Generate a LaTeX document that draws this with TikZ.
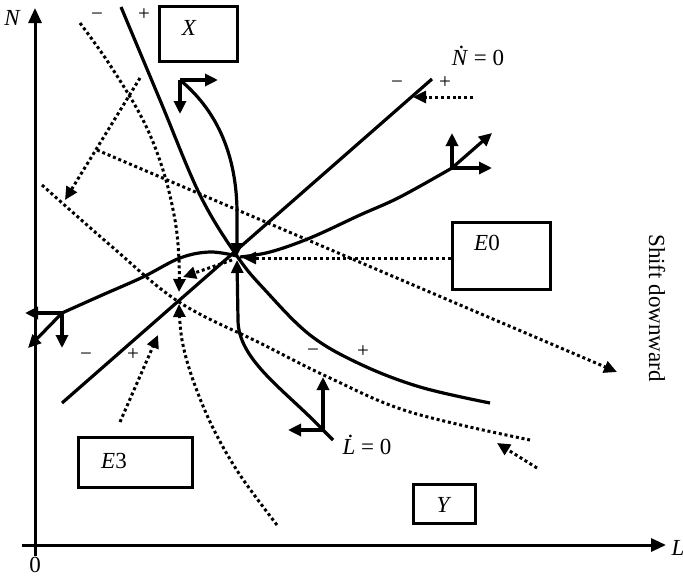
\documentclass[tikz,border=0pt]{standalone}
\usepackage{fontspec}
\setmainfont{Liberation Serif}
\usetikzlibrary{positioning, arrows.meta, calc}
\newcommand{\dotop}[1]{\ooalign{#1\cr\hidewidth\kern0.12em\raisebox{0.74em}{.}\hidewidth\cr}}
\tikzstyle{box}   = [rectangle, draw, line width=3pt, inner sep=0pt]
\tikzstyle{traj}  = [line width=3.2pt]
\tikzstyle{dotln} = [line width=3pt, dash pattern=on 3pt off 2.8pt]

\begin{document}
\begin{tikzpicture}[
  x=1pt, y=-1pt,
  font=\fontsize{23}{27}\selectfont,
  >={Triangle[length=13pt,width=12pt]},
  lbl/.style={inner sep=0pt, font=\fontsize{23}{27}\selectfont\itshape},
  txt/.style={inner sep=0pt},
  sgn/.style={inner sep=0pt, font=\fontsize{21}{24}\selectfont},
  ax/.style={->, line width=3pt, >={Triangle[length=15pt,width=13pt]}}
]
\useasboundingbox (0,0) rectangle (683,579);
\coordinate (e0) at (237,256);
\coordinate (e3) at (179,302);
\coordinate (cx) at (180,80);
\coordinate (cl) at (323,430);
\coordinate (cw) at (62,313);
\coordinate (ce) at (452,168);
\draw[ax] (35,556) -- (35,8);
\draw[ax] (22,545) -- (666,545);
\node[lbl] (nax) at (12,18) {N};
\node[lbl] (lax) at (678,548) {L};
\node[txt] (orig) at (35,565) {0};
\node[box, minimum width=78pt, minimum height=55pt] (xbox) at (198.5,33.5) {};
\node[lbl] (xlab) at (189,28) {X};
\node[box, minimum width=98pt, minimum height=67pt] (eobox) at (501,255.5) {};
\node[txt] (eolab) at (487,243) {\textit{E}0};
\node[box, minimum width=114pt, minimum height=50pt] (ethbox) at (135,462) {};
\node[txt] (ethlab) at (114,461) {\textit{E}3};
\node[box, minimum width=62pt, minimum height=39pt] (ybox) at (444,503.5) {};
\node[lbl] (ylab) at (443,505) {Y};
\node[txt] (ndot) at (478,58) {\dotop{\textit{N}} = 0};
\node[txt] (ldot) at (367,447) {\dotop{\textit{L}} = 0};
\node[txt, rotate=-90] (shift) at (657,308) {Shift downward};
\node[sgn] (m1) at (97,17) {−};
\node[sgn] (p1) at (144,15) {+};
\node[sgn] (m2) at (397,85) {−};
\node[sgn] (p2) at (445,83) {+};
\node[sgn] (m3) at (86,357) {−};
\node[sgn] (p3) at (133,355) {+};
\node[sgn] (m4) at (313,353) {−};
\node[sgn] (p4) at (363,352) {+};
\draw[traj] (62,403) -- (432,79);
\draw[traj] plot[smooth, tension=0.6] coordinates {(121,7) (160,100) (200,195) (e0) (265,290) (310,335) (360,364) (420,387) (490,403)};
\draw[traj, ->] (cx) .. controls (214,108) and (236,150) .. (237,210) -- (e0);
\draw[traj, ->] (cx) -- (218,80);
\draw[traj, ->] (cx) -- (180,114);
\draw[traj, ->] (333,440) -- (cl) .. controls (285,390) and (238,360) .. (238,320) -- (237,260);
\draw[traj, ->] (cl) -- (323,377);
\draw[traj, ->] (cl) -- (288,430);
\draw[traj] plot[smooth, tension=0.6] coordinates {(cw) (100,296) (143,277) (180,258) (210,252) (e0)};
\draw[traj, ->] (cw) -- (25,313);
\draw[traj, ->] (cw) -- (62,348);
\draw[traj, ->] (cw) -- (28,348);
\draw[traj] plot[smooth, tension=0.6] coordinates {(ce) (400,197) (360,215) (310,238) (270,252) (240,257)};
\draw[traj, ->] (ce) -- (452,133);
\draw[traj, ->] (ce) -- (492,168);
\draw[traj, ->] (ce) -- (492,133);
\draw[dotln, ->] (eobox.west |- 0,258) -- (243,258);
\draw[dotln, ->] (97,150) -- (617,372);
\draw[dotln] plot[smooth, tension=0.6] coordinates {(42,185) (110,245) (e3) (260,343) (330,378) (410,412) (530,440)};
\draw[dotln, ->] (537,468) -- (497,443);
\draw[dotln, ->] (120,422) -- (158,335);
\draw[dotln, ->] plot[smooth, tension=0.6] coordinates {(80,23) (110,65) (143,120) (163,170) (175,220) (179,260) (179,292)};
\draw[dotln, ->] (140,78) -- (65,200);
\draw[dotln, ->] plot[smooth, tension=0.6] coordinates {(277,525) (240,475) (213,428) (193,380) (182,340) (179,304)};
\draw[dotln, ->] (473,97) -- (413,97);
\draw[dotln, ->] (232,260) -- (183,277);
\end{tikzpicture}
\end{document}
